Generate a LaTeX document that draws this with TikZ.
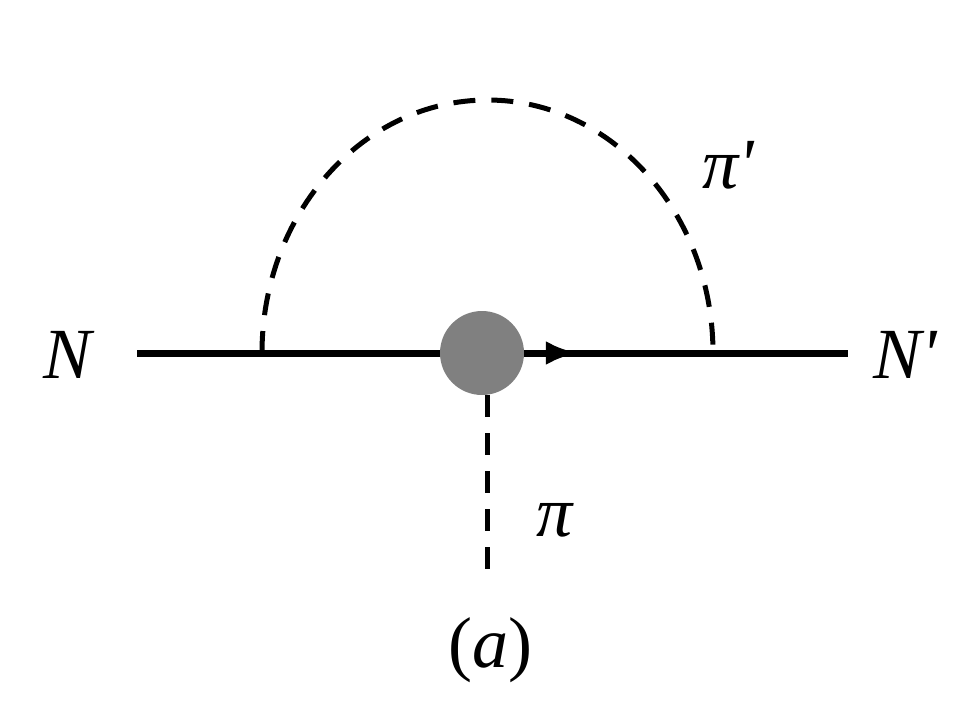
\documentclass[tikz,border=0pt]{standalone}
\usepackage{fontspec}
\setmainfont{Liberation Serif}
\usetikzlibrary{arrows.meta,decorations.markings}
\begin{document}
\begin{tikzpicture}[x=1pt,y=-1pt,
  ln/.style={line width=7pt},
  dsh/.style={line width=5pt,dash pattern=on 22pt off 16pt},
  lbl/.style={font=\fontsize{72}{72}\selectfont\itshape}]
\useasboundingbox (0,0) rectangle (960,720);
\coordinate (L) at (137,353);
\coordinate (R) at (848,353);
\coordinate (A) at (262,353);
\coordinate (B) at (713,353);
\coordinate (D) at (487,570);
\draw[ln,postaction={decorate},decoration={markings,mark=at position 0.62 with {\arrow{Latex[length=32pt,width=24pt]}}}] (L) -- (R);
\draw[dsh] (A) arc[start angle=180,end angle=360,x radius=225.5,y radius=253];
\node[circle,fill=black!50,minimum size=84pt,inner sep=0] (V) at (482,353) {};
\draw[dsh] (V.south -| D) -- (D);
\node[lbl] (n1) at (68,355) {N};
\node[lbl] (n2) at (905,355) {N\textquotesingle};
\node[lbl] (p1) at (728,165) {π\textquotesingle};
\node[lbl] (p2) at (555,520) {π};
\node[font=\fontsize{72}{72}\selectfont] (a) at (490,650) {(\textit{a})};
\end{tikzpicture}
\end{document}
